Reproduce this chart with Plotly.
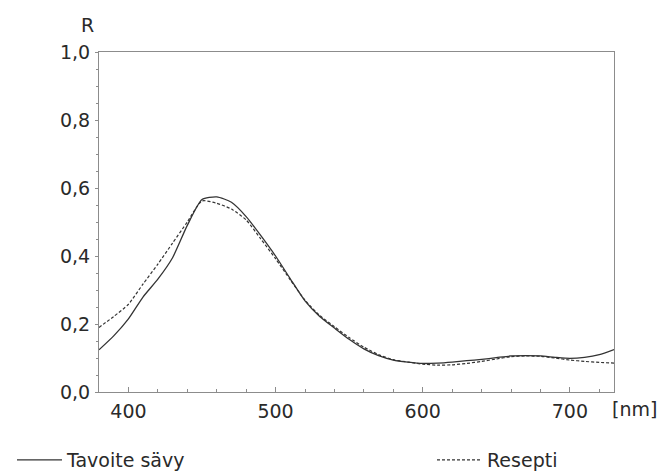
import plotly.graph_objects as go

wavelength = [380, 390, 400, 410, 420, 430, 440, 450, 460, 470, 480, 490, 500,
              510, 520, 530, 540, 550, 560, 570, 580, 590, 600, 610, 620, 630,
              640, 650, 660, 670, 680, 690, 700, 710, 720, 730]

tavoite = [0.124, 0.165, 0.215, 0.280, 0.332, 0.395, 0.490, 0.566, 0.574, 0.558,
           0.516, 0.460, 0.400, 0.333, 0.268, 0.222, 0.188, 0.155, 0.127, 0.107,
           0.094, 0.088, 0.084, 0.085, 0.088, 0.092, 0.096, 0.101, 0.106, 0.107,
           0.106, 0.102, 0.099, 0.102, 0.110, 0.125]

resepti = [0.190, 0.222, 0.258, 0.318, 0.376, 0.438, 0.500, 0.562, 0.555, 0.538,
           0.506, 0.450, 0.392, 0.330, 0.270, 0.225, 0.192, 0.160, 0.132, 0.110,
           0.095, 0.088, 0.082, 0.079, 0.080, 0.084, 0.090, 0.097, 0.104, 0.106,
           0.105, 0.100, 0.094, 0.090, 0.087, 0.085]

y_tickvals = [0.0, 0.2, 0.4, 0.6, 0.8, 1.0]
y_ticktext = ["0,0", "0,2", "0,4", "0,6", "0,8", "1,0"]
x_tickvals = [400, 500, 600, 700]
x_ticktext = ["400", "500", "600", "700"]

FONT = "DejaVu Sans"
LINE = "#333333"
AX = "#8c8c8c"

W, H = 659, 473
L, R, T, B = 99, 45, 52, 81
pw, ph = W - L - R, H - T - B


def px_x(x):
    return (x - L) / pw


def px_y(y):
    return (H - B - y) / ph


fig = go.Figure()
fig.add_trace(go.Scatter(x=wavelength, y=tavoite, mode="lines", name="Tavoite sävy",
                         line=dict(color=LINE, width=1.3, shape="spline", smoothing=0.6),
                         legend="legend", showlegend=True))
fig.add_trace(go.Scatter(x=wavelength, y=resepti, mode="lines", name="Resepti",
                         line=dict(color=LINE, width=1.2, dash="3px,2px",
                                   shape="spline", smoothing=0.6),
                         legend="legend2", showlegend=True))

fig.update_layout(
    width=W, height=H,
    showlegend=True,
    margin=dict(l=L, r=R, t=T, b=B, autoexpand=False),
    paper_bgcolor="white", plot_bgcolor="white",
    font=dict(family=FONT, size=19, color="#2a2a2a"),
    legend=dict(x=px_x(12), y=px_y(460), xanchor="left", yanchor="middle",
                font=dict(size=19, family=FONT), bgcolor="rgba(0,0,0,0)",
                itemwidth=45),
    legend2=dict(x=px_x(432), y=px_y(460), xanchor="left", yanchor="middle",
                 font=dict(size=19, family=FONT), bgcolor="rgba(0,0,0,0)",
                 itemwidth=45),
    xaxis=dict(range=[380, 730], tickvals=x_tickvals, ticktext=x_ticktext,
               showgrid=False, zeroline=False, showline=True, linecolor=AX,
               linewidth=1, mirror=True, ticks="inside", ticklen=5,
               tickcolor=AX, ticklabelstandoff=2,
               minor=dict(dtick=20, tick0=380, ticks="inside", ticklen=3,
                          tickcolor=AX, showgrid=False)),
    yaxis=dict(range=[0, 1.0], tickvals=y_tickvals, ticktext=y_ticktext,
               showgrid=False, zeroline=False, showline=True, linecolor=AX,
               linewidth=1, mirror=True, ticks="outside", ticklen=3,
               tickcolor=AX, ticklabelstandoff=1,
               minor=dict(dtick=0.05, tick0=0, ticks="outside", ticklen=2,
                          tickcolor=AX, showgrid=False)),
    annotations=[
        dict(text="R", x=px_x(87), y=px_y(25), xref="paper", yref="paper",
             xanchor="center", yanchor="middle", showarrow=False,
             font=dict(size=19, family=FONT)),
        dict(text="[nm]", x=px_x(634), y=px_y(409), xref="paper", yref="paper",
             xanchor="center", yanchor="middle", showarrow=False,
             font=dict(size=19, family=FONT)),
    ],
)

fig.write_html(
    "out.html",
    config={"displayModeBar": False},
    post_script="document.body.style.margin='0';document.body.style.padding='0';"
                "document.body.style.overflow='hidden';",
)
